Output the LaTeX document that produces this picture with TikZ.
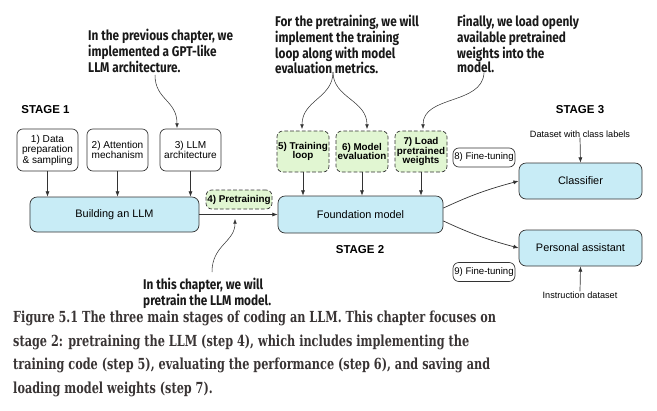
\documentclass[tikz,border=0pt]{standalone}
\usepackage{fontspec}
\setmainfont{Liberation Sans}
\newfontfamily\notefont[FakeStretch=0.84]{Fira Sans}
\newfontfamily\capfont[FakeStretch=0.74]{DejaVu Serif}
\usetikzlibrary{arrows.meta}
\definecolor{boxblue}{HTML}{C8ECF6}
\definecolor{boxgreen}{HTML}{E1F6D2}
\definecolor{capgray}{HTML}{393434}
\definecolor{edge}{HTML}{333333}
\tikzset{
  stepbox/.style={draw=edge, line width=0.6pt, rounded corners=5pt, fill=white, align=center, inner sep=0pt, minimum width=1.83cm, minimum height=1.26cm, font=\fontsize{8.6}{8}\selectfont},
  stagebox/.style={draw=edge, line width=0.6pt, rounded corners=6pt, fill=boxblue, align=center, inner sep=0pt, font=\fontsize{9.3}{10}\selectfont},
  trainbox/.style={stepbox, dash pattern=on 3.2pt off 1.8pt, fill=boxgreen, font=\fontsize{8.4}{8}\selectfont\bfseries, minimum width=1.56cm, minimum height=1.23cm},
  tunebox/.style={stepbox, minimum width=1.86cm, minimum height=0.57cm},
  note/.style={font=\notefont\fontsize{12}{11.5}\selectfont\bfseries, align=left, inner sep=0pt, text=black!90},
  stagelabel/.style={font=\fontsize{9.8}{10}\selectfont\bfseries, inner sep=0pt},
  datalabel/.style={font=\fontsize{7.8}{8}\selectfont, inner sep=0pt},
  arr/.style={-{Latex[length=4.5pt,width=3.5pt]}, line width=0.6pt, draw=edge},
  hint/.style={-{Latex[length=4pt,width=3.2pt]}, line width=0.45pt, draw=edge}
}
\begin{document}
\begin{tikzpicture}[x=0.03cm, y=-0.03cm]
\useasboundingbox (0,0) rectangle (657,410);

\node [stagelabel] (stage1) at (45.5,110) {STAGE 1};
\node [stagelabel] (stage2) at (360,250) {STAGE 2};
\node [stagelabel] (stage3) at (580,110) {STAGE 3};

\node [stepbox] (data) at (47.5,150) {1) Data\\preparation\\\& sampling};
\node [stepbox] (attn) at (117.5,150) {2) Attention\\mechanism};
\node [stepbox] (arch) at (190.5,150) {3) LLM\\architecture};
\node [stagebox, minimum width=5.07cm, minimum height=1.05cm] (build) at (114.5,214.5) {Building an LLM};
\node [trainbox, minimum width=1.98cm, minimum height=0.57cm] (pretrain) at (239,199.5) {4) Pretraining};

\node [trainbox] (loop) at (303,151.5) {5) Training\\loop};
\node [trainbox] (evalm) at (362,151.5) {6) Model\\evaluation};
\node [trainbox] (load) at (421,151.5) {7) Load\\pretrained\\weights};
\node [stagebox, minimum width=4.95cm, minimum height=1.11cm] (found) at (360.5,214.5) {Foundation model};

\node [tunebox, font=\fontsize{8.2}{8}\selectfont] (tune8) at (484,157.5) {8) Fine-tuning};
\node [tunebox, font=\fontsize{8.2}{8}\selectfont] (tune9) at (484,272) {9) Fine-tuning};
\node [stagebox, minimum width=3.69cm, minimum height=1.08cm] (classif) at (580.5,181) {Classifier};
\node [stagebox, minimum width=3.69cm, minimum height=1.08cm] (assist) at (580.5,248) {Personal assistant};
\node [datalabel] (classdata) at (580,134) {Dataset with class labels};
\node [datalabel] (instrdata) at (580,295) {Instruction dataset};

\draw [arr] (data.south) -- (data.south |- build.north);
\draw [arr] (attn.south) -- (attn.south |- build.north);
\draw [arr] (arch.south) -- (arch.south |- build.north);
\draw [arr] (build.east) -- (found.west);
\draw [arr] (loop.south) -- (loop.south |- found.north);
\draw [arr] (evalm.south) -- (evalm.south |- found.north);
\draw [arr] (load.south) -- (load.south |- found.north);
\draw [arr] ([yshift=5.5pt]found.east) to [out=25, in=195] (classif.west);
\draw [arr] ([yshift=-5.5pt]found.east) to [out=-25, in=165] (assist.west);
\draw [arr] (classdata.south) -- (classif.north);
\draw [arr] (instrdata.north) -- (assist.south);

% notes and their pointers
\node [note, anchor=north west] (prevnote) at (88,29) {In the previous chapter, we\\implemented a GPT-like\\LLM architecture.};
\node [note, anchor=north west] (pretrainnote) at (275,15) {For the pretraining, we will\\implement the training\\loop along with model\\evaluation metrics.};
\node [note, anchor=north west] (finalnote) at (457,15) {Finally, we load openly\\available pretrained\\weights into the\\model.};
\node [note, anchor=north west] (thisnote) at (143,278) {In this chapter, we will\\pretrain the LLM model.};

\coordinate (prevfoot) at (155,75);
\coordinate (prevtip) at (177,128);
\coordinate (forkfoot) at (333,72);
\coordinate (looptip) at (302,129);
\coordinate (evaltip) at (367,129);
\coordinate (finalfoot) at (484,73);
\coordinate (loadtip) at (423,129);
\coordinate (thisfoot) at (212,272);
\coordinate (pretip) at (235,219);
\draw [hint] (prevfoot) .. controls (155,100) and (177,100) .. (prevtip);
\draw [hint] (forkfoot) .. controls (333,98) and (302,100) .. (looptip);
\draw [hint] (forkfoot) .. controls (333,98) and (367,100) .. (evaltip);
\draw [hint] (finalfoot) .. controls (482,105) and (423,95) .. (loadtip);
\draw [hint] (thisfoot) .. controls (212,245) and (235,242) .. (pretip);

\node [anchor=north west, inner sep=0pt, align=left, text=capgray, font=\capfont\fontsize{13}{20}\selectfont\bfseries] (caption) at (13,311) {Figure 5.1 The three main stages of coding an LLM. This chapter focuses on\\stage 2: pretraining the LLM (step 4), which includes implementing the\\training code (step 5), evaluating the performance (step 6), and saving and\\loading model weights (step 7).};
\end{tikzpicture}
\end{document}
